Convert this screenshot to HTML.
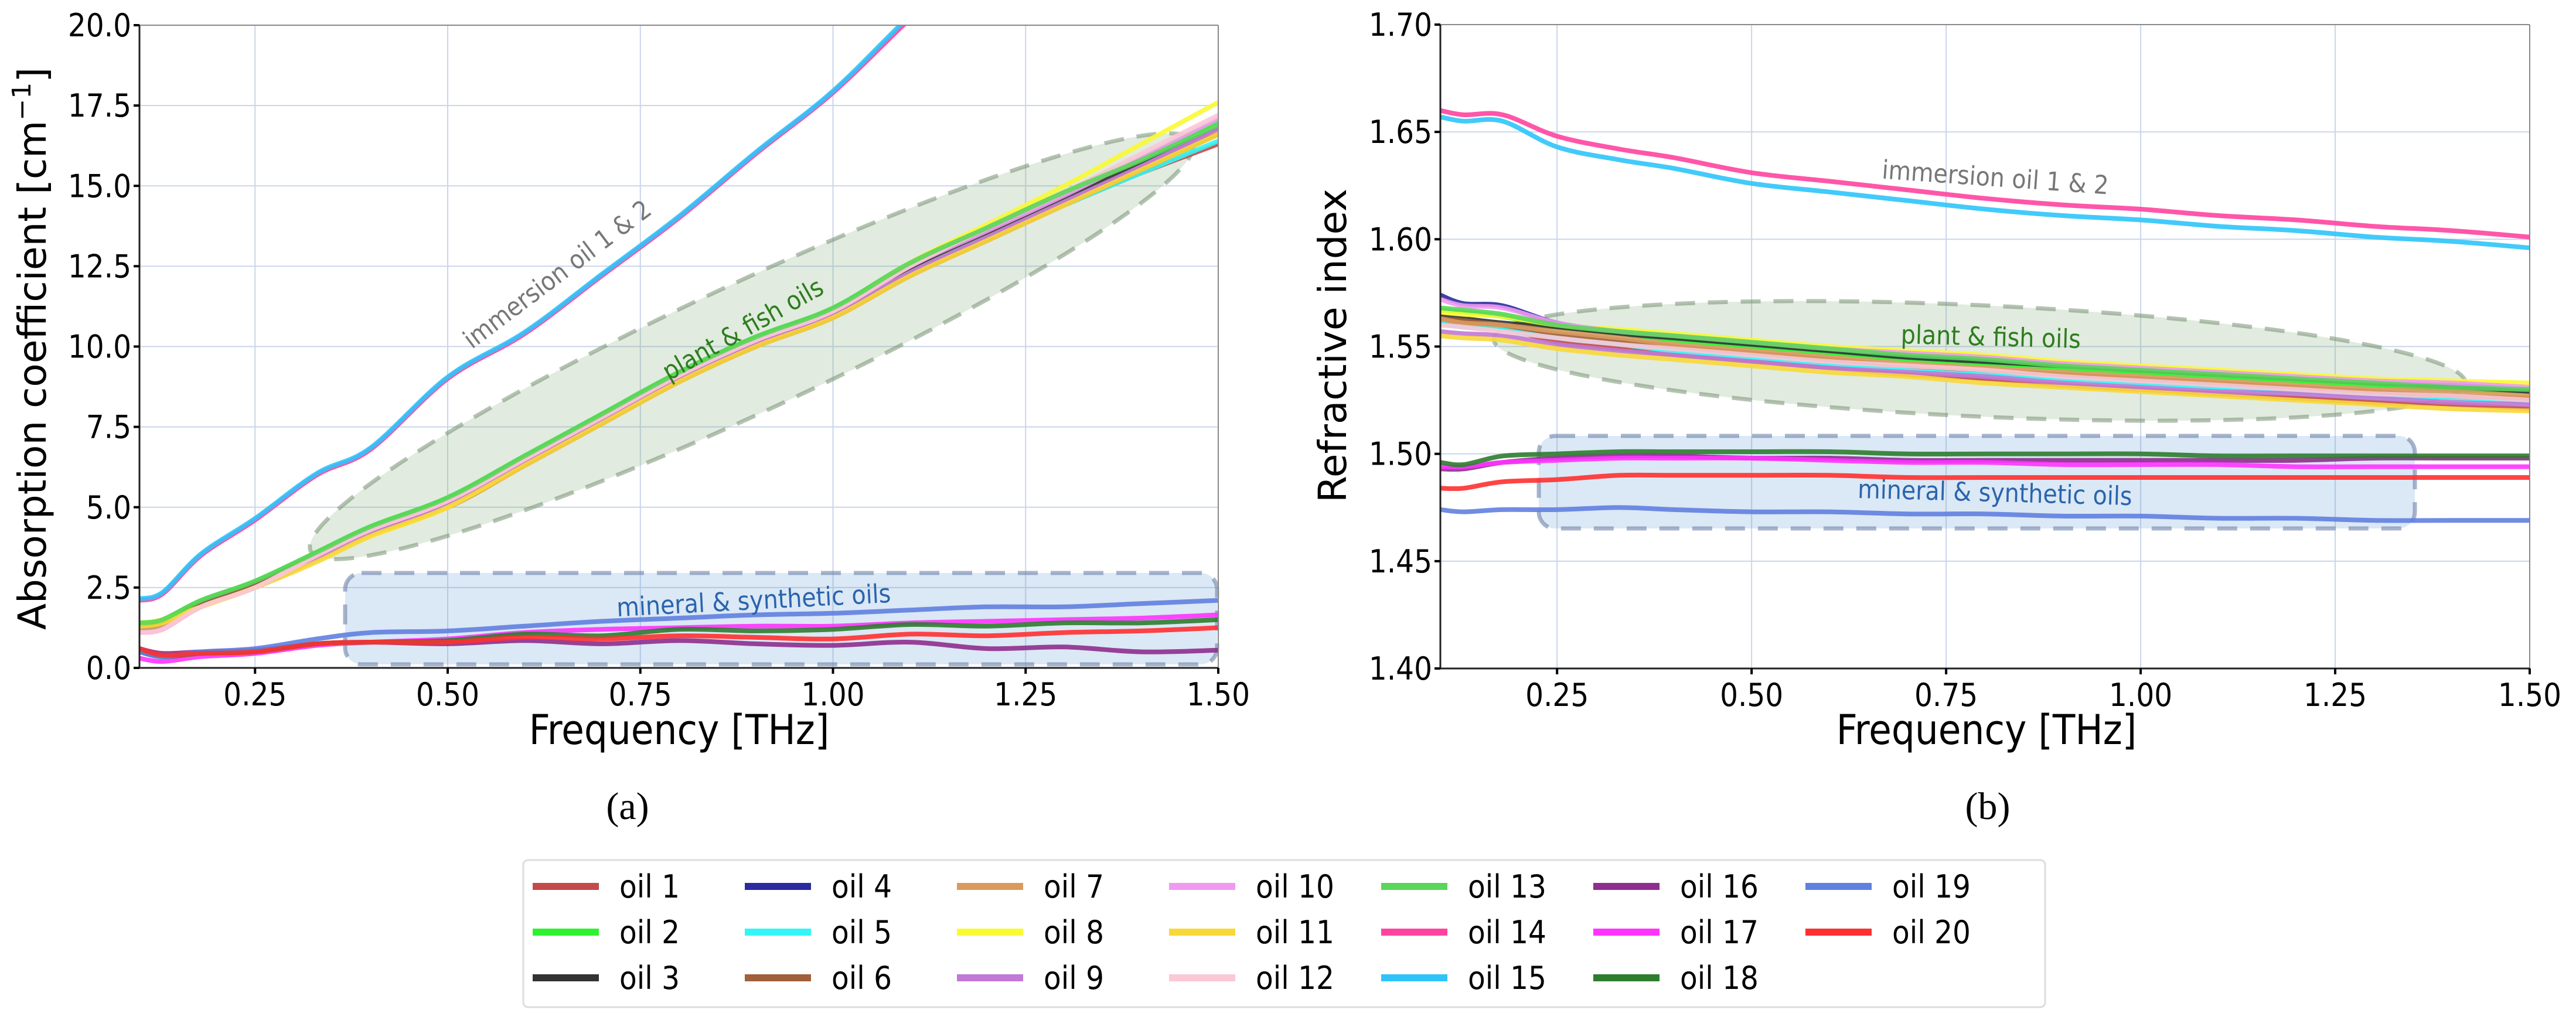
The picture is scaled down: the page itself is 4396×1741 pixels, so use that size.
<!DOCTYPE html>
<html><head><meta charset="utf-8"><style>
html,body{margin:0;padding:0;background:#fff;}
svg{display:block;}
.tick{font-family:"Liberation Sans Narrow","DejaVu Sans Condensed","Liberation Sans",sans-serif;font-size:54px;fill:#000;}
.axt{font-family:"Liberation Sans Narrow","DejaVu Sans Condensed","Liberation Sans",sans-serif;font-size:70px;fill:#000;}
.ylab{font-family:"DejaVu Sans","Liberation Sans",sans-serif;font-size:66px;fill:#000;}
.ann{font-family:"Liberation Sans Narrow","DejaVu Sans Condensed","Liberation Sans",sans-serif;font-size:44px;}
.cap{font-family:"Liberation Serif",serif;font-size:66px;fill:#000;}
.leg{font-family:"Liberation Sans Narrow","DejaVu Sans Condensed","Liberation Sans",sans-serif;font-size:54px;fill:#000;}
</style></head><body>
<svg id="fig" xmlns="http://www.w3.org/2000/svg" width="4396" height="1741" viewBox="0 0 4396 1741">
<defs>
<clipPath id="clipA"><rect x="238" y="43" width="1841" height="1097"/></clipPath>
<clipPath id="clipB"><rect x="2458" y="42" width="1859" height="1099"/></clipPath>
</defs>
</svg>
<script>
const freqs=[0.1,0.13,0.18,0.25,0.33,0.4,0.5,0.6,0.7,0.8,0.9,1.0,1.1,1.2,1.3,1.4,1.5];
const oilNames=["oil 1","oil 2","oil 3","oil 4","oil 5","oil 6","oil 7","oil 8","oil 9","oil 10","oil 11","oil 12","oil 13","oil 14","oil 15","oil 16","oil 17","oil 18","oil 19","oil 20"];
const oilColors=["#c44a4a","#2ef22e","#333333","#2b2b9f","#33f5f5","#a0603a","#d99a5e","#fafa33","#c079d6","#f09aef","#f8d838","#fbc8d6","#5ad65a","#ff44a0","#2ec4fa","#8e2e8e","#ff33ff","#2e7d2e","#6080e0","#ff3030"];
const absorption=[
[1.2,1.3,1.9,2.5,3.4,4.2,5.0,6.3,7.6,8.9,10.0,10.9,12.2,13.3,14.4,15.4,16.3],
[1.4,1.5,2.1,2.7,3.6,4.4,5.3,6.6,7.9,9.2,10.3,11.2,12.6,13.7,14.8,15.9,17.0],
[1.3,1.4,2.0,2.6,3.5,4.3,5.2,6.5,7.8,9.1,10.2,11.0,12.4,13.5,14.6,15.7,16.8],
[1.3,1.4,2.0,2.6,3.5,4.3,5.1,6.4,7.7,9.0,10.1,11.0,12.3,13.4,14.5,15.6,16.6],
[1.2,1.3,1.9,2.5,3.4,4.2,5.1,6.4,7.7,9.0,10.1,11.0,12.3,13.4,14.4,15.4,16.4],
[1.3,1.4,2.0,2.6,3.5,4.2,5.0,6.3,7.6,8.9,10.0,10.9,12.2,13.3,14.4,15.5,16.6],
[1.2,1.3,1.9,2.5,3.4,4.2,5.1,6.4,7.7,9.0,10.1,11.0,12.3,13.4,14.5,15.6,16.7],
[1.4,1.5,1.9,2.5,3.4,4.1,5.0,6.4,7.7,9.0,10.2,11.1,12.6,13.8,15.0,16.3,17.6],
[1.1,1.2,1.9,2.5,3.4,4.2,5.1,6.4,7.7,9.0,10.1,11.0,12.3,13.4,14.5,15.6,16.8],
[1.1,1.2,1.9,2.5,3.5,4.3,5.2,6.5,7.8,9.1,10.2,11.1,12.5,13.6,14.7,15.9,17.1],
[1.3,1.4,1.9,2.5,3.3,4.1,5.0,6.3,7.6,8.9,10.0,10.9,12.2,13.3,14.4,15.5,16.6],
[1.1,1.2,1.9,2.5,3.5,4.3,5.2,6.5,7.8,9.1,10.2,11.1,12.5,13.7,14.8,16.0,17.2],
[1.4,1.5,2.1,2.7,3.6,4.4,5.3,6.6,7.9,9.2,10.3,11.2,12.6,13.7,14.8,15.8,16.9],
[2.1,2.3,3.5,4.6,6.0,6.8,9.0,10.4,12.2,14.0,16.0,17.9,20.2,22.4,24.6,26.8,29.0],
[2.15,2.35,3.55,4.65,6.05,6.85,9.05,10.45,12.25,14.05,16.05,17.95,20.3,22.5,24.7,26.9,29.1],
[0.6,0.45,0.5,0.55,0.75,0.8,0.75,0.85,0.75,0.85,0.75,0.7,0.8,0.6,0.65,0.5,0.55],
[0.3,0.2,0.35,0.45,0.7,0.8,0.9,1.1,1.2,1.25,1.3,1.3,1.4,1.45,1.5,1.55,1.65],
[0.5,0.35,0.45,0.5,0.75,0.8,0.85,1.05,1.0,1.2,1.15,1.2,1.35,1.3,1.4,1.4,1.5],
[0.5,0.35,0.5,0.6,0.9,1.1,1.15,1.3,1.45,1.55,1.65,1.7,1.8,1.9,1.9,2.0,2.1],
[0.6,0.4,0.45,0.5,0.75,0.8,0.8,0.95,0.9,1.0,0.95,0.9,1.05,1.0,1.1,1.15,1.25]];
const refractive=[
[1.562,1.561,1.559,1.552,1.549,1.546,1.543,1.540,1.537,1.535,1.532,1.530,1.528,1.526,1.524,1.523,1.521],
[1.567,1.566,1.564,1.559,1.556,1.553,1.550,1.547,1.544,1.542,1.540,1.538,1.536,1.534,1.532,1.530,1.529],
[1.564,1.563,1.561,1.559,1.556,1.554,1.551,1.548,1.545,1.543,1.541,1.539,1.537,1.535,1.533,1.531,1.529],
[1.574,1.570,1.569,1.561,1.557,1.555,1.552,1.549,1.546,1.544,1.542,1.540,1.538,1.536,1.534,1.532,1.530],
[1.561,1.559,1.558,1.554,1.551,1.548,1.545,1.542,1.540,1.537,1.535,1.533,1.531,1.529,1.527,1.526,1.524],
[1.563,1.562,1.560,1.556,1.553,1.550,1.547,1.544,1.541,1.539,1.537,1.535,1.533,1.531,1.529,1.527,1.526],
[1.563,1.561,1.560,1.557,1.554,1.551,1.548,1.545,1.542,1.540,1.538,1.536,1.534,1.532,1.530,1.529,1.527],
[1.566,1.565,1.564,1.560,1.558,1.556,1.553,1.550,1.548,1.546,1.543,1.541,1.539,1.537,1.535,1.534,1.533],
[1.557,1.556,1.555,1.551,1.548,1.546,1.543,1.540,1.538,1.536,1.533,1.531,1.529,1.528,1.526,1.524,1.523],
[1.572,1.569,1.568,1.561,1.557,1.555,1.552,1.549,1.547,1.545,1.542,1.540,1.538,1.536,1.534,1.533,1.531],
[1.555,1.554,1.553,1.549,1.546,1.544,1.541,1.538,1.536,1.533,1.531,1.529,1.527,1.525,1.523,1.521,1.520],
[1.560,1.559,1.557,1.554,1.551,1.549,1.546,1.543,1.541,1.539,1.536,1.534,1.532,1.530,1.528,1.527,1.525],
[1.568,1.567,1.565,1.560,1.557,1.555,1.552,1.549,1.546,1.544,1.541,1.539,1.537,1.535,1.533,1.531,1.530],
[1.660,1.658,1.658,1.648,1.642,1.638,1.631,1.627,1.623,1.619,1.616,1.614,1.611,1.609,1.606,1.604,1.601],
[1.657,1.655,1.655,1.643,1.637,1.633,1.626,1.622,1.618,1.614,1.611,1.609,1.606,1.604,1.601,1.599,1.596],
[1.493,1.493,1.496,1.498,1.499,1.499,1.498,1.498,1.497,1.497,1.497,1.497,1.497,1.497,1.498,1.498,1.498],
[1.494,1.494,1.496,1.497,1.498,1.498,1.498,1.497,1.496,1.496,1.495,1.495,1.495,1.494,1.494,1.494,1.494],
[1.496,1.495,1.499,1.500,1.501,1.501,1.501,1.501,1.500,1.500,1.500,1.500,1.499,1.499,1.499,1.499,1.499],
[1.474,1.473,1.474,1.474,1.475,1.474,1.473,1.473,1.472,1.472,1.471,1.471,1.470,1.470,1.469,1.469,1.469],
[1.484,1.484,1.487,1.488,1.490,1.490,1.490,1.490,1.489,1.489,1.489,1.489,1.489,1.489,1.489,1.489,1.489]];
const xTicks=[0.25,0.5,0.75,1.0,1.25,1.5];
const xTickLabels=["0.25","0.50","0.75","1.00","1.25","1.50"];
const yTicksA=[0,2.5,5,7.5,10,12.5,15,17.5,20];
const yTickLabelsA=["0.0","2.5","5.0","7.5","10.0","12.5","15.0","17.5","20.0"];
const yTicksB=[1.40,1.45,1.50,1.55,1.60,1.65,1.70];
const yTickLabelsB=["1.40","1.45","1.50","1.55","1.60","1.65","1.70"];

const NS="http://www.w3.org/2000/svg";
const svg=document.getElementById('fig');
function mk(tag,attrs,parent){const e=document.createElementNS(NS,tag);for(const k in attrs)e.setAttribute(k,attrs[k]);(parent||svg).appendChild(e);return e;}

const panels=[
 {L:238,R:2079,T:43,B:1140,x0:0.1,x1:1.5,y0:0,y1:20,data:absorption,yt:yTicksA,ytl:yTickLabelsA,clip:'clipA',id:'a'},
 {L:2458,R:4317,T:42,B:1141,x0:0.1,x1:1.5,y0:1.4,y1:1.7,data:refractive,yt:yTicksB,ytl:yTickLabelsB,clip:'clipB',id:'b'}];
panels.forEach(p=>{p.sx=v=>p.L+(v-p.x0)/(p.x1-p.x0)*(p.R-p.L);p.sy=v=>p.B-(v-p.y0)/(p.y1-p.y0)*(p.B-p.T);});

function smooth(pts){let d='M'+pts[0][0].toFixed(1)+','+pts[0][1].toFixed(1);
 for(let i=0;i<pts.length-1;i++){const p0=pts[Math.max(0,i-1)],p1=pts[i],p2=pts[i+1],p3=pts[Math.min(pts.length-1,i+2)];
  const c1=[p1[0]+(p2[0]-p0[0])/6,p1[1]+(p2[1]-p0[1])/6],c2=[p2[0]-(p3[0]-p1[0])/6,p2[1]-(p3[1]-p1[1])/6];
  d+=' C'+c1[0].toFixed(1)+','+c1[1].toFixed(1)+' '+c2[0].toFixed(1)+','+c2[1].toFixed(1)+' '+p2[0].toFixed(1)+','+p2[1].toFixed(1);}
 return d;}

panels.forEach(p=>{
 const g=mk('g',{});
 
 
 xTicks.forEach((t,i)=>{const l=mk('line',{x1:p.sx(t),x2:p.sx(t),y1:p.T,y2:p.B,stroke:'#c9d6ea','stroke-width':2},g);
  });
 p.yt.forEach(t=>{const l=mk('line',{x1:p.L,x2:p.R,y1:p.sy(t),y2:p.sy(t),stroke:'#c9d6ea','stroke-width':2},g);
  });
 if(p.id==='a'){
  const e=mk('ellipse',{cx:1283,cy:591,rx:830,ry:110,transform:'rotate(-24.9 1283 591)',fill:'rgba(120,165,110,0.22)',stroke:'rgba(120,145,115,0.55)','stroke-width':7,'stroke-dasharray':'34 22'},g);
  
  const r=mk('rect',{x:589,y:978,width:1488,height:156,rx:28,fill:'rgba(90,150,210,0.22)',stroke:'rgba(110,130,170,0.6)','stroke-width':7,'stroke-dasharray':'34 22'},g);
  
 } else {
  const e=mk('ellipse',{cx:3378,cy:616,rx:830,ry:95,transform:'rotate(2.6 3378 616)',fill:'rgba(120,165,110,0.22)',stroke:'rgba(120,145,115,0.55)','stroke-width':7,'stroke-dasharray':'34 22'},g);
  
  const r=mk('rect',{x:2626,y:744,width:1495,height:158,rx:28,fill:'rgba(90,150,210,0.22)',stroke:'rgba(110,130,170,0.6)','stroke-width':7,'stroke-dasharray':'34 22'},g);
  
 }
 const sg=mk('g',{'clip-path':'url(#'+p.clip+')'},g);
 const order=p.id==='a'?[13,14,0,1,2,3,4,5,6,7,8,9,10,11,12,15,16,17,18,19]:[...Array(20).keys()];
 order.forEach(i=>{
  const pts=freqs.map((f,j)=>[p.sx(f),p.sy(p.data[i][j])]);
  const path=mk('path',{d:smooth(pts),fill:'none',stroke:oilColors[i],'stroke-width':8,'stroke-opacity':0.9,'stroke-linejoin':'round','stroke-linecap':'round'},sg);
  
  
 });
 mk('line',{x1:p.L,x2:p.R,y1:p.T,y2:p.T,stroke:'#888','stroke-width':2},g);
 mk('line',{x1:p.R,x2:p.R,y1:p.T,y2:p.B,stroke:'#888','stroke-width':2},g);
 mk('line',{x1:p.L,x2:p.L,y1:p.T,y2:p.B,stroke:'#222','stroke-width':3},g);
 mk('line',{x1:p.L,x2:p.R,y1:p.B,y2:p.B,stroke:'#222','stroke-width':3},g);
 xTicks.forEach((t,i)=>{mk('line',{x1:p.sx(t),x2:p.sx(t),y1:p.B,y2:p.B+10,stroke:'#000','stroke-width':4},g);
  const tx=mk('text',{x:p.sx(t),y:p.B+64,'text-anchor':'middle',class:'tick'},g);tx.textContent=xTickLabels[i];
  });
 p.yt.forEach((t,i)=>{mk('line',{x1:p.L-10,x2:p.L,y1:p.sy(t),y2:p.sy(t),stroke:'#000','stroke-width':4},g);
  const tx=mk('text',{x:p.L-14,y:p.sy(t)+19,'text-anchor':'end',class:'tick'},g);tx.textContent=p.ytl[i];
  });
});

function txt(s,x,y,cls,name,opts){const t=mk('text',Object.assign({x:x,y:y,class:cls,'text-anchor':'middle'},opts||{}));t.textContent=s;
 return t;}
txt('Frequency [THz]',1159,1270,'axt','x-axis-title-a');
txt('Frequency [THz]',3390,1270,'axt','x-axis-title-b');
const ya=txt('Absorption coefficient [cm',0,0,'ylab','y-axis-title-a',{transform:'translate(78 595) rotate(-90)'});
const sup=document.createElementNS(NS,'tspan');sup.setAttribute('dy','-26');sup.setAttribute('font-size','44');sup.textContent='−1';ya.appendChild(sup);
const cl=document.createElementNS(NS,'tspan');cl.setAttribute('dy','26');cl.textContent=']';ya.appendChild(cl);
txt('Refractive index',0,0,'ylab','y-axis-title-b',{transform:'translate(2297 590) rotate(-90)'});
txt('immersion oil 1 & 2',0,0,'ann','label-immersion-a',{transform:'translate(960 480) rotate(-37)',fill:'#777'});
txt('plant & fish oils',0,0,'ann','label-plant-a',{transform:'translate(1275 575) rotate(-29.5)',fill:'#2e7d1e'});
txt('mineral & synthetic oils',0,0,'ann','label-mineral-a',{transform:'translate(1287 1040) rotate(-3)',fill:'#2a64ad'});
txt('immersion oil 1 & 2',0,0,'ann','label-immersion-b',{transform:'translate(3404 318) rotate(4)',fill:'#777'});
txt('plant & fish oils',0,0,'ann','label-plant-b',{transform:'translate(3397 590) rotate(1.5)',fill:'#2e7d1e'});
txt('mineral & synthetic oils',0,0,'ann','label-mineral-b',{transform:'translate(3404 856) rotate(1.5)',fill:'#2a64ad'});
txt('(a)',1071,1398,'cap','caption-a');
txt('(b)',3392,1398,'cap','caption-b');

const lg=mk('g',{});

mk('rect',{x:893,y:1468,width:2597,height:251,rx:8,fill:'#fff',stroke:'#ddd','stroke-width':3},lg);
oilNames.forEach((n,i)=>{const col=Math.floor(i/3),row=i%3;const x=909+col*362,y=1513+row*78;
 const e=mk('g',{},lg);
 
 
 mk('line',{x1:x,x2:x+113,y1:y,y2:y,stroke:oilColors[i],'stroke-width':12},e);
 const t=mk('text',{x:x+148,y:y+19,class:'leg'},e);t.textContent=n;});
</script>
</body></html>
